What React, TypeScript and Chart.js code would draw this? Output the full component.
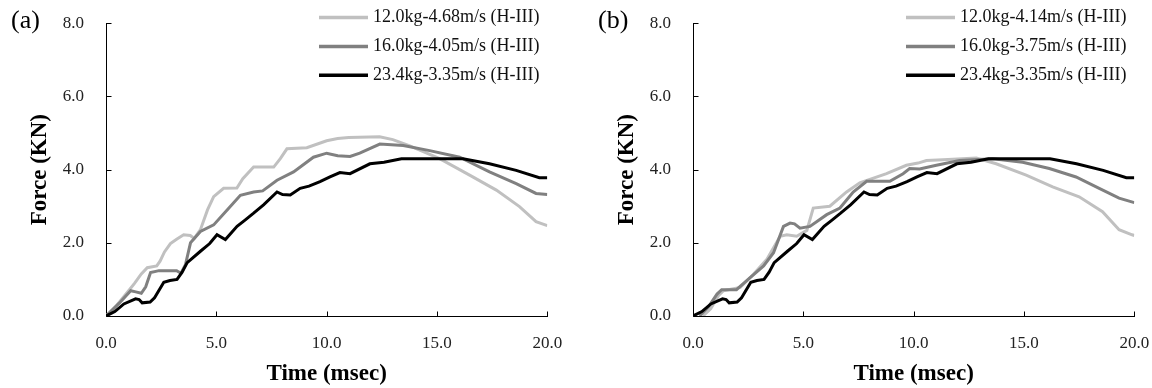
import React, { useEffect, useRef } from "react";
import { Chart, registerables } from "chart.js";

Chart.register(...registerables);

// ---------- data ----------
const xTickValues = [0, 5, 10, 15, 20];
const yTickValues = [0, 2, 4, 6, 8];
const xTitle = "Time (msec)";
const yTitle = "Force (KN)";

const labelsA = ["12.0kg-4.68m/s (H-III)", "16.0kg-4.05m/s (H-III)", "23.4kg-3.35m/s (H-III)"];
const labelsB = ["12.0kg-4.14m/s (H-III)", "16.0kg-3.75m/s (H-III)", "23.4kg-3.35m/s (H-III)"];
const seriesColors = ["#c0c0c0", "#808080", "#000000"];

// Panel (a) 12.0 kg
const tA12 = [0, 0.5, 0.97, 1.3, 1.6, 1.87, 2.3, 2.45, 2.65, 2.92, 3.2, 3.52, 3.82, 4.0, 4.28, 4.6, 4.88, 5.33, 5.93, 6.2, 6.69, 7.6, 7.9, 8.2, 9.1, 10.0, 10.5, 11.0, 12.4, 13.0, 13.77, 15.12, 16.48, 17.69, 18.74, 19.49, 20.0];
const fA12 = [0, 0.3, 0.65, 0.9, 1.15, 1.32, 1.37, 1.5, 1.75, 1.98, 2.1, 2.22, 2.2, 2.12, 2.36, 2.9, 3.26, 3.49, 3.5, 3.75, 4.07, 4.07, 4.3, 4.57, 4.6, 4.79, 4.85, 4.88, 4.9, 4.82, 4.65, 4.3, 3.85, 3.44, 2.99, 2.58, 2.47];
// Panel (a) 16.0 kg
const tA16 = [0, 0.6, 1.12, 1.35, 1.6, 1.8, 2.02, 2.4, 3.2, 3.4, 3.6, 3.83, 4.28, 4.88, 5.49, 6.09, 6.69, 7.1, 7.75, 8.5, 9.4, 10.0, 10.5, 11.06, 11.5, 12.41, 13.47, 14.67, 16.03, 17.38, 18.59, 19.49, 20.0];
const fA16 = [0, 0.35, 0.69, 0.66, 0.62, 0.8, 1.19, 1.24, 1.24, 1.17, 1.4, 2.0, 2.31, 2.49, 2.9, 3.3, 3.39, 3.42, 3.71, 3.94, 4.34, 4.45, 4.38, 4.36, 4.45, 4.7, 4.66, 4.52, 4.34, 3.94, 3.62, 3.35, 3.32];
// 23.4 kg (same test in both panels)
const t234 = [0, 0.4, 0.81, 1.34, 1.5, 1.64, 2.0, 2.2, 2.62, 2.9, 3.22, 3.45, 3.68, 4.28, 4.7, 5.03, 5.41, 5.94, 6.3, 6.69, 7.14, 7.75, 8.0, 8.35, 8.8, 9.2, 9.7, 10.15, 10.6, 11.06, 11.96, 12.6, 13.39, 16.18, 17.38, 18.59, 19.64, 20.0];
const f234 = [0, 0.12, 0.33, 0.47, 0.45, 0.36, 0.38, 0.5, 0.92, 0.97, 1.0, 1.2, 1.46, 1.77, 1.98, 2.22, 2.09, 2.45, 2.62, 2.81, 3.04, 3.39, 3.32, 3.31, 3.49, 3.55, 3.67, 3.8, 3.92, 3.89, 4.16, 4.2, 4.3, 4.3, 4.16, 3.98, 3.78, 3.78];
// Panel (b) 12.0 kg
const tB12 = [0.45, 0.8, 1.16, 1.38, 2.14, 2.74, 3.35, 3.95, 4.25, 4.7, 5.16, 5.45, 6.2, 6.96, 7.56, 8.77, 9.67, 10.2, 10.58, 11.33, 12.84, 13.74, 15.1, 16.3, 17.5, 18.56, 19.31, 19.9, 20.0];
const fB12 = [0, 0.2, 0.56, 0.69, 0.78, 1.14, 1.55, 2.18, 2.22, 2.18, 2.34, 2.95, 3.0, 3.39, 3.64, 3.89, 4.12, 4.18, 4.25, 4.27, 4.32, 4.16, 3.85, 3.53, 3.26, 2.85, 2.36, 2.22, 2.2];
// Panel (b) 16.0 kg
const tB16 = [0.3, 0.7, 1.09, 1.3, 1.97, 2.59, 3.2, 3.65, 4.1, 4.4, 4.6, 4.85, 5.3, 6.06, 6.66, 7.26, 7.87, 8.92, 9.52, 9.82, 10.27, 11.03, 12.08, 13.59, 14.94, 16.15, 17.36, 18.41, 19.31, 20.0];
const fB16 = [0, 0.25, 0.6, 0.72, 0.72, 1.05, 1.37, 1.73, 2.45, 2.54, 2.52, 2.4, 2.45, 2.77, 2.95, 3.39, 3.68, 3.68, 3.89, 4.03, 4.02, 4.12, 4.25, 4.3, 4.2, 4.03, 3.8, 3.49, 3.22, 3.1];

const FONT = "'Liberation Serif', 'Times New Roman', serif";

const toPts = (t: number[], f: number[]) => t.map((x, i) => ({ x, y: f[i] }));

// Axis lines with inward tick marks (positions from the chart's own scales)
const axesPlugin = {
  id: "innerAxes",
  beforeDatasetsDraw(chart: any) {
    const ctx = chart.ctx;
    const { left, right, top, bottom } = chart.chartArea;
    const xs = chart.scales.x;
    const ys = chart.scales.y;
    const L = Math.round(left) + 0.5;
    const B = Math.round(bottom) + 0.5;
    ctx.save();
    ctx.strokeStyle = "#000";
    ctx.lineWidth = 1;
    ctx.beginPath();
    ctx.moveTo(L, Math.round(top));
    ctx.lineTo(L, B);
    ctx.lineTo(Math.round(right) + 1, B);
    xTickValues.forEach((v) => {
      const px = Math.round(xs.getPixelForValue(v)) + 0.5;
      ctx.moveTo(px, B);
      ctx.lineTo(px, B - 5);
    });
    yTickValues.forEach((v) => {
      const py = Math.round(ys.getPixelForValue(v)) + 0.5;
      ctx.moveTo(L, py);
      ctx.lineTo(L + 5, py);
    });
    ctx.stroke();
    ctx.restore();
  },
};

// Panel letter and legend
const overlayPlugin = {
  id: "overlay",
  afterDraw(chart: any, _args: any, opts: any) {
    const ctx = chart.ctx;
    ctx.save();
    ctx.fillStyle = "#000";
    ctx.textBaseline = "middle";
    ctx.textAlign = "left";
    ctx.font = `26px ${FONT}`;
    ctx.fillText(opts.panel, 11, 21);
    ctx.font = `18px ${FONT}`;
    (opts.labels as string[]).forEach((lab, i) => {
      const y = 17.5 + i * 28.9;
      ctx.strokeStyle = opts.colors[i];
      ctx.lineWidth = 3.5;
      ctx.lineCap = "butt";
      ctx.beginPath();
      ctx.moveTo(319, y);
      ctx.lineTo(368, y);
      ctx.stroke();
      ctx.fillStyle = "#111";
      ctx.fillText(lab, 373, y);
    });
    ctx.restore();
  },
};

function Panel({ panel, labels, series, left }: { panel: string; labels: string[]; series: { x: number; y: number }[][]; left: number }) {
  const ref = useRef<HTMLCanvasElement>(null);
  useEffect(() => {
    if (!ref.current) return;
    const datasets = series.map((pts, i) => ({
      label: labels[i],
      data: pts,
      borderColor: seriesColors[i],
      backgroundColor: seriesColors[i],
      borderWidth: 3,
      pointRadius: 0,
      tension: 0,
      fill: false,
      order: 2 - i,
    }));
    const chart = new Chart(ref.current, {
      type: "line",
      data: { datasets },
      plugins: [axesPlugin, overlayPlugin],
      options: {
        animation: false,
        responsive: false,
        devicePixelRatio: 1,
        layout: { padding: { top: 23.3, right: 17.7, bottom: 0, left: 0 } },
        plugins: {
          legend: { display: false },
          tooltip: { enabled: false },
          overlay: { panel, labels, colors: seriesColors },
        } as any,
        scales: {
          x: {
            type: "linear",
            min: 0,
            max: 20,
            afterBuildTicks: (s: any) => { s.ticks = xTickValues.map((v) => ({ value: v })); },
            afterFit: (s: any) => { s.height = 72; s.paddingLeft = 0; s.paddingRight = 0; },
            ticks: {
              callback: (v: any) => Number(v).toFixed(1),
              font: { family: FONT, size: 17 },
              color: "#222",
              padding: 17,
              maxRotation: 0,
              autoSkip: false,
            },
            grid: { display: false, drawOnChartArea: false, drawTicks: false },
            border: { display: false },
            title: { display: true, text: xTitle, font: { family: FONT, size: 23, weight: "bold" }, color: "#000", padding: { top: 0, bottom: 0 } },
          },
          y: {
            type: "linear",
            min: 0,
            max: 8,
            afterBuildTicks: (s: any) => { s.ticks = yTickValues.map((v) => ({ value: v })); },
            afterFit: (s: any) => { s.width = 106; s.paddingTop = 0; s.paddingBottom = 0; },
            ticks: {
              callback: (v: any) => Number(v).toFixed(1),
              font: { family: FONT, size: 17 },
              color: "#222",
              padding: 22,
              autoSkip: false,
            },
            grid: { display: false, drawOnChartArea: false, drawTicks: false },
            border: { display: false },
            title: { display: true, text: yTitle, font: { family: FONT, size: 23, weight: "bold" }, color: "#000", padding: { top: 26.2, bottom: 0 } },
          },
        },
      } as any,
    });
    return () => chart.destroy();
  }, []);
  return <canvas ref={ref} width={565} height={388} style={{ position: "absolute", left, top: 0, width: 565, height: 388 }} />;
}

export default function App() {
  return (
    <div style={{ position: "absolute", left: 0, top: 0, width: 1152, height: 388, background: "#fff", overflow: "hidden" }}>
      <Panel panel="(a)" labels={labelsA} series={[toPts(tA12, fA12), toPts(tA16, fA16), toPts(t234, f234)]} left={0} />
      <Panel panel="(b)" labels={labelsB} series={[toPts(tB12, fB12), toPts(tB16, fB16), toPts(t234, f234)]} left={587} />
    </div>
  );
}
